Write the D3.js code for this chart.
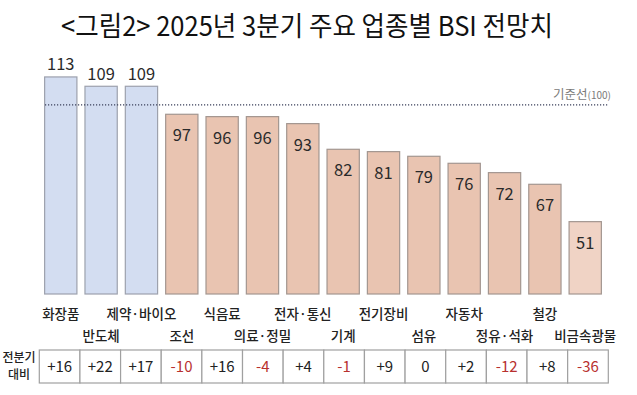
<!DOCTYPE html>
<html>
<head>
<meta charset="utf-8">
<script src="https://cdn.jsdelivr.net/npm/d3@7"></script>
<style>
  body { margin: 0; background: #fff; }
  svg { display: block; font-family: "Noto Sans CJK KR", "Noto Sans", sans-serif; }
</style>
</head>
<body>
<div id="vis"></div>
<script>
// categories (x order), outlook values and change vs previous quarter
var categories = ["화장품","반도체","제약·바이오","조선","식음료","의료·정밀","전자·통신","기계","전기장비","섬유","자동차","정유·석화","철강","비금속광물"];
var bsi = [113,109,109,97,96,96,93,82,81,79,76,72,67,51];
var change = ["+16","+22","+17","-10","+16","-4","+4","-1","+9","0","+2","-12","+8","-36"];
var baseline = 100;

var width = 637, height = 395;

var svg = d3.select("#vis")
  .append("svg")
  .attr("width", width)
  .attr("height", height);

// title
svg.append("text")
  .attr("x", 61)
  .attr("y", 36)
  .attr("textLength", 492)
  .attr("lengthAdjust", "spacingAndGlyphs")
  .style("font-size", "27px")
  .style("fill", "#111")
  .text("<그림2> 2025년 3분기 주요 업종별 BSI 전망치");

var x = d3.scaleBand()
  .domain(categories)
  .range([40.6, 605.4])
  .paddingInner(0.2)
  .paddingOuter(0.1);

var y = d3.scaleLinear()
  .domain([20, 120])
  .range([294, 294 - 100 * 2.334]);

var data = categories.map(function(c, i){ return {name: c, v: bsi[i], d: change[i], i: i}; });

function fillFor(d) {
  if (d.v >= baseline) return "#d3ddf1";
  if (d.i === categories.length - 1) return "#f0d3c5";
  return "#e9c4b1";
}

// bars
svg.selectAll("rect.bar")
  .data(data)
  .enter().append("rect")
  .attr("class", "bar")
  .attr("x", function(d){ return x(d.name); })
  .attr("y", function(d){ return y(d.v); })
  .attr("width", x.bandwidth())
  .attr("height", function(d){ return y(20) - y(d.v); })
  .attr("fill", fillFor)
  .attr("stroke", function(d){ return d.v >= baseline ? "#9da1ad" : "#a39690"; })
  .attr("stroke-width", 1.2);

// reference line
var yRef = y(baseline) - 2.5;
svg.append("line")
  .attr("x1", 45)
  .attr("x2", 608)
  .attr("y1", yRef)
  .attr("y2", yRef)
  .attr("stroke", "#3a3f5a")
  .attr("stroke-width", 1.3)
  .attr("stroke-dasharray", "1.2,1.8");

var refLabel = svg.append("text")
  .attr("x", 611)
  .attr("y", yRef - 6)
  .attr("text-anchor", "end")
  .style("font-size", "12.5px")
  .style("fill", "#7a7a7a");
refLabel.append("tspan").text("기준선");
refLabel.append("tspan").style("font-size", "10px").text("(100)");

// value labels
svg.selectAll("text.val")
  .data(data)
  .enter().append("text")
  .attr("class", "val")
  .attr("x", function(d){ return x(d.name) + x.bandwidth() / 2; })
  .attr("y", function(d){ return d.v >= baseline ? y(d.v) - 6.5 : y(d.v) + 27; })
  .attr("text-anchor", "middle")
  .style("font-size", "16.5px")
  .style("fill", "#2a2a2a")
  .text(function(d){ return d.v; });

// category labels, staggered in two rows
svg.selectAll("text.cat")
  .data(data)
  .enter().append("text")
  .attr("class", "cat")
  .attr("x", function(d){ return x(d.name) + x.bandwidth() / 2; })
  .attr("y", function(d){ return d.i % 2 === 0 ? 318.5 : 341; })
  .attr("text-anchor", "middle")
  .style("font-size", "13.5px")
  .style("font-weight", "500")
  .style("fill", "#222")
  .text(function(d){ return d.name; });

// change table
var tx = d3.scaleBand()
  .domain(categories)
  .range([39.3, 608.3]);

var row = svg.append("g").attr("transform", "translate(0,350)");

row.selectAll("rect.cell")
  .data(data)
  .enter().append("rect")
  .attr("class", "cell")
  .attr("x", function(d){ return tx(d.name); })
  .attr("y", 0)
  .attr("width", tx.bandwidth())
  .attr("height", 33)
  .attr("fill", "#fff")
  .attr("stroke", "#a0a0a0")
  .attr("stroke-width", 1.2);

row.selectAll("text.chg")
  .data(data)
  .enter().append("text")
  .attr("class", "chg")
  .attr("x", function(d){ return tx(d.name) + tx.bandwidth() / 2; })
  .attr("y", 22)
  .attr("text-anchor", "middle")
  .style("font-size", "15px")
  .style("fill", function(d){ return d.d.charAt(0) === "-" ? "#b8312f" : "#222"; })
  .text(function(d){ return d.d; });

var rowLabel = row.append("text")
  .attr("text-anchor", "middle")
  .style("font-size", "12px")
  .style("font-weight", "500")
  .style("fill", "#222");
rowLabel.append("tspan").attr("x", 19).attr("y", 12).text("전분기");
rowLabel.append("tspan").attr("x", 19).attr("y", 29).text("대비");
</script>
</body>
</html>
